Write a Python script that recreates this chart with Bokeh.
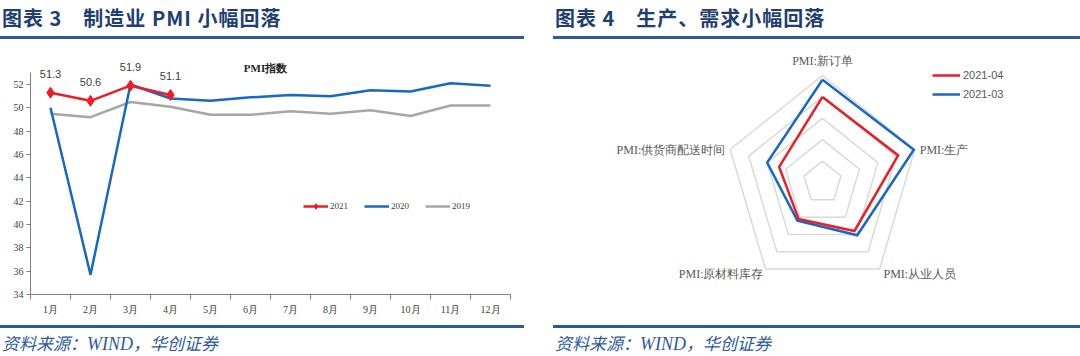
import math
from bokeh.plotting import figure
from bokeh.models import Div, FixedTicker, Legend, LegendItem, Range1d, LabelSet, Label, ColumnDataSource
from bokeh.layouts import row, column
from bokeh.core.properties import value
from bokeh.embed import file_html
from bokeh.resources import INLINE

# ---------------- data ----------------
months = ["1月", "2月", "3月", "4月", "5月", "6月", "7月", "8月", "9月", "10月", "11月", "12月"]
pmi_2021 = [51.3, 50.6, 51.9, 51.1]
pmi_2020 = [50.0, 35.7, 52.0, 50.8, 50.6, 50.9, 51.1, 51.0, 51.5, 51.4, 52.1, 51.9]
pmi_2019 = [49.5, 49.2, 50.5, 50.1, 49.4, 49.4, 49.7, 49.5, 49.8, 49.3, 50.2, 50.2]
y_ticks = [34, 36, 38, 40, 42, 44, 46, 48, 50, 52]
y_axis_min, y_axis_max = 34, 53

radar_cats = ["PMI:新订单", "PMI:生产", "PMI:从业人员", "PMI:原材料库存", "PMI:供货商配送时间"]
radar_2104 = [52.0, 52.2, 49.6, 48.2, 48.7]
radar_2103 = [53.6, 53.9, 50.1, 48.4, 50.0]
radar_min, radar_max, radar_step = 44, 54, 2

TITLE_COLOR = "#1F3F72"
LINE_COLOR = "#2E5A9C"
RED = "#EE1C25"
BLUE = "#1769C2"
GRAY = "#A6A6A6"
CJK = "Noto Sans CJK SC"

TITLE_H = 39
FIG_H = 286
SRC_H = 31


def title_div(text, width):
    html = (f'<div style="box-sizing:border-box;width:{width}px;height:{TITLE_H}px;margin:0;'
            f'padding:8px 0 0 2px;border-bottom:3px solid {LINE_COLOR};font-family:\'{CJK}\';'
            f'font-size:20px;line-height:20px;font-weight:bold;color:{TITLE_COLOR};'
            f'white-space:nowrap;letter-spacing:1px;overflow:visible">{text}</div>')
    return Div(text=html, width=width, height=TITLE_H, margin=0)


def source_div(width):
    html = (f'<div style="box-sizing:border-box;width:{width}px;height:{SRC_H}px;margin:0;'
            f'padding:6px 0 0 2px;border-top:3px solid {LINE_COLOR};font-family:\'{CJK}\';'
            f'font-size:17px;line-height:17px;font-style:italic;color:{LINE_COLOR};'
            f'white-space:nowrap;overflow:visible">资料来源：<span style="font-family:'
            f'\'Liberation Serif\';font-size:18px">WIND</span>，华创证券</div>')
    return Div(text=html, width=width, height=SRC_H, margin=0)


# ---------------- left: line chart ----------------
LW = 524
x_all = list(range(1, 13))
x_21 = x_all[:len(pmi_2021)]

# frame extends above the axis top so that labels are not clipped
p = figure(width=LW, height=FIG_H, x_range=(0.5, 12.5), y_range=(y_axis_min, 55),
           output_backend="svg", toolbar_location=None, title=None,
           min_border_left=30, min_border_right=14, min_border_top=10, min_border_bottom=31)
p.outline_line_color = None
p.xgrid.visible = False
p.ygrid.visible = False
p.background_fill_color = "white"
p.border_fill_color = "white"

p.add_layout(Label(x=6.5, y=53.45, x_offset=-5, text="PMI指数", text_align="center",
                   text_baseline="middle", text_font="Liberation Serif",
                   text_font_size="11px", text_font_style="bold", text_color="#262626"))

r19 = p.line(x_all, pmi_2019, line_color=GRAY, line_width=2.5)
r20 = p.line(x_all, pmi_2020, line_color=BLUE, line_width=2.5)
r21 = p.line(x_21, pmi_2021, line_color=RED, line_width=2.5)
r21m = p.scatter(x_21, pmi_2021, marker="diamond", size=11, fill_color=RED, line_color=RED)

lab_src = ColumnDataSource(dict(x=x_21, y=pmi_2021, t=[f"{v:.1f}" for v in pmi_2021]))
p.add_layout(LabelSet(x="x", y="y", text="t", source=lab_src, y_offset=19,
                      text_align="center", text_baseline="middle",
                      text_font=value("Liberation Sans"), text_font_size="11px",
                      text_color="#404040"))

xa = p.xaxis[0]
xa.ticker = FixedTicker(ticks=x_all, minor_ticks=[i + 0.5 for i in range(0, 13)])
xa.major_label_overrides = {i + 1: m for i, m in enumerate(months)}
xa.major_tick_line_color = None
xa.major_tick_in = 0
xa.major_tick_out = 5
xa.minor_tick_in = 0
xa.minor_tick_out = 5
xa.minor_tick_line_color = "#808080"
xa.axis_line_color = "#808080"
xa.major_label_standoff = 4
xa.major_label_text_font = "Liberation Serif"
xa.major_label_text_font_size = "10px"
xa.major_label_text_color = "#404040"

ya = p.yaxis[0]
ya.bounds = (y_axis_min, y_axis_max)
ya.ticker = FixedTicker(ticks=y_ticks, minor_ticks=[])
ya.major_tick_in = 0
ya.major_tick_out = 4
ya.major_tick_line_color = "#808080"
ya.axis_line_color = "#808080"
ya.major_label_standoff = 3
ya.major_label_text_font = "Liberation Serif"
ya.major_label_text_font_size = "10px"
ya.major_label_text_color = "#404040"

leg = Legend(items=[LegendItem(label="2021", renderers=[r21, r21m]),
                    LegendItem(label="2020", renderers=[r20]),
                    LegendItem(label="2019", renderers=[r19])],
             orientation="horizontal", location=(273, 81), padding=0, margin=0,
             spacing=14, glyph_width=25, glyph_height=14, label_height=14,
             label_standoff=2, border_line_color=None, background_fill_alpha=0,
             label_text_font="Liberation Serif", label_text_font_size="9px",
             label_text_color="#404040")
p.add_layout(leg, "center")

left = column(title_div("图表 3&emsp;制造业 PMI 小幅回落", LW), p, source_div(LW), spacing=0)

# ---------------- right: radar ----------------
RW = 527
RX_PX, RY_PX = 97.0, 107.0  # outer ring radius in px (horizontal / vertical)
cx_px, cy_px = 269, 143      # centre inside the figure (from left, from top)

q = figure(width=RW, height=FIG_H, output_backend="svg", toolbar_location=None,
           x_range=Range1d(-cx_px / RX_PX, (RW - cx_px) / RX_PX),
           y_range=Range1d(-(FIG_H - cy_px) / RY_PX, cy_px / RY_PX),
           min_border=0)
q.axis.visible = False
q.grid.visible = False
q.outline_line_color = None
q.background_fill_color = "white"
q.border_fill_color = "white"

n = len(radar_cats)
angles = [math.pi / 2 - 2 * math.pi * i / n for i in range(n)]


def rad(v):
    return (v - radar_min) / (radar_max - radar_min)


rings = list(range(radar_min + radar_step, radar_max + 1, radar_step))
for rv in rings:
    rr = rad(rv)
    xs = [rr * math.cos(a) for a in angles] + [rr * math.cos(angles[0])]
    ys = [rr * math.sin(a) for a in angles] + [rr * math.sin(angles[0])]
    q.line(xs, ys, line_color="#D9D9D9", line_width=1.5)


def poly(vals):
    xs = [rad(v) * math.cos(a) for v, a in zip(vals, angles)]
    ys = [rad(v) * math.sin(a) for v, a in zip(vals, angles)]
    return xs + xs[:1], ys + ys[:1]


bx, by = poly(radar_2103)
rx, ry = poly(radar_2104)
rb = q.line(bx, by, line_color=BLUE, line_width=2.5, line_join="miter")
rr_ = q.line(rx, ry, line_color=RED, line_width=2.5, line_join="miter")

lab_x = [math.cos(a) for a in angles]
lab_y = [math.sin(a) for a in angles]
q.text(lab_x, lab_y, text=radar_cats,
       text_align=["center", "left", "left", "right", "right"],
       text_baseline="middle",
       x_offset=[0, 5, 4, -2, -5], y_offset=[-15, 1, 5, 5, 1],
       text_font=value("Liberation Serif"), text_font_size="12px", text_color="#595959")

leg2 = Legend(items=[LegendItem(label="2021-04", renderers=[rr_]),
                     LegendItem(label="2021-03", renderers=[rb])],
              location=(379, 222), padding=0, margin=0, spacing=1,
              glyph_width=28, glyph_height=18, label_height=18, label_standoff=3,
              border_line_color=None, background_fill_alpha=0,
              label_text_font="Liberation Sans", label_text_font_size="11px",
              label_text_color="#595959")
q.add_layout(leg2, "center")

right = column(title_div("图表 4&emsp;生产、需求小幅回落", RW), q, source_div(RW), spacing=0)

spacer = Div(text="", width=29, height=TITLE_H + FIG_H + SRC_H, margin=0)
layout = row(left, spacer, right, spacing=0)

open("out.html", "w").write(file_html(layout, INLINE))
